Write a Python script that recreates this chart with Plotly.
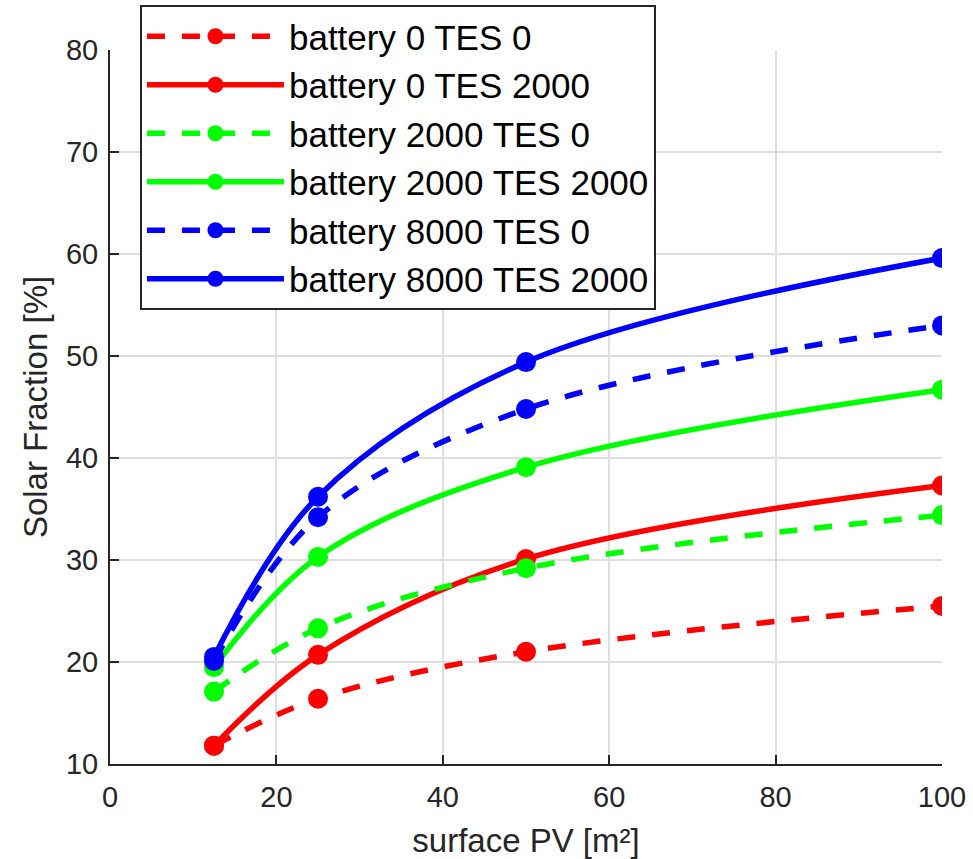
import plotly.graph_objects as go

# PV surface [m²]
surface_pv = [12.5, 25, 50, 100]

# Solar fraction [%] for each battery / TES combination
sf_b0_t0 = [11.8, 16.4, 21.0, 25.5]
sf_b0_t2000 = [11.8, 20.7, 30.1, 37.3]
sf_b2000_t0 = [17.1, 23.3, 29.2, 34.4]
sf_b2000_t2000 = [19.5, 30.3, 39.1, 46.7]
sf_b8000_t0 = [20.1, 34.2, 44.8, 53.0]
sf_b8000_t2000 = [20.5, 36.2, 49.4, 59.6]

DASHED = "18px,17px"
series = [
    ("battery 0 TES 0", sf_b0_t0, "#ff0000", DASHED),
    ("battery 0 TES 2000", sf_b0_t2000, "#ff0000", "solid"),
    ("battery 2000 TES 0", sf_b2000_t0, "#00ff00", DASHED),
    ("battery 2000 TES 2000", sf_b2000_t2000, "#00ff00", "solid"),
    ("battery 8000 TES 0", sf_b8000_t0, "#0000ff", DASHED),
    ("battery 8000 TES 2000", sf_b8000_t2000, "#0000ff", "solid"),
]

x_ticks = [0, 20, 40, 60, 80, 100]
y_ticks = [10, 20, 30, 40, 50, 60, 70, 80]

FONT = "Liberation Sans, Arial, Helvetica, sans-serif"
INK = "#262626"

fig = go.Figure()
for name, ys, color, dash in series:
    fig.add_trace(go.Scatter(
        x=surface_pv, y=ys, name=name, mode="lines+markers",
        line=dict(color=color, width=5.5, dash=dash, shape="spline", smoothing=1.0),
        marker=dict(color=color, size=20, symbol="circle"),
    ))

axis_common = dict(
    showline=True, linecolor=INK, linewidth=2, mirror=False,
    showgrid=True, gridcolor="#dfdfdf", gridwidth=2,
    ticks="inside", ticklen=9, tickwidth=2, tickcolor=INK,
    tickfont=dict(family=FONT, size=29, color=INK),
    zeroline=False, automargin=False,
)

fig.update_layout(
    width=973, height=859,
    margin=dict(l=110, r=31, t=50, b=95, autoexpand=False),
    paper_bgcolor="white", plot_bgcolor="white",
    font=dict(family=FONT, color=INK),
    xaxis=dict(range=[0, 100], tickvals=x_ticks, ticklabelstandoff=6,
               title=dict(text="surface PV [m²]", font=dict(family=FONT, size=33, color=INK), standoff=18),
               **axis_common),
    yaxis=dict(range=[10, 80], tickvals=y_ticks, ticklabelstandoff=4,
               title=dict(text="Solar Fraction [%]", font=dict(family=FONT, size=33, color=INK), standoff=8),
               **axis_common),
    legend=dict(
        x=0.036, y=1.063, xanchor="left", yanchor="top",
        bgcolor="white", bordercolor=INK, borderwidth=2,
        font=dict(family=FONT, size=35, color="#000000"),
        itemwidth=137, tracegroupgap=0,
    ),
    showlegend=True,
)

fig.write_html("out.html")
